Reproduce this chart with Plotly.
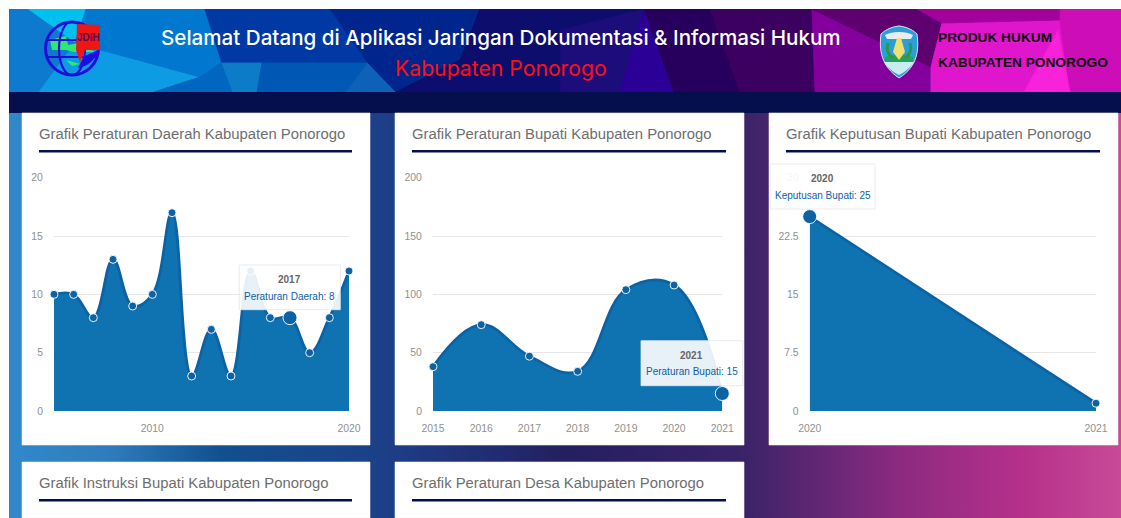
import base64
import plotly.graph_objects as go

W, H = 1121, 518

# ---- data ----
perda_years = [2005, 2006, 2007, 2008, 2009, 2010, 2011, 2012, 2013, 2014, 2015, 2016, 2017, 2018, 2019, 2020]
perda_values = [10, 10, 8, 13, 9, 10, 17, 3, 7, 3, 12, 8, 8, 5, 8, 12]
perbup_years = [2015, 2016, 2017, 2018, 2019, 2020, 2021]
perbup_values = [38, 74, 47, 34, 104, 108, 15]
kepbup_years = [2020, 2021]
kepbup_values = [25, 1]

perda_yticks = [0, 5, 10, 15, 20]
perbup_yticks = [0, 50, 100, 150, 200]
kepbup_yticks = [0, 7.5, 15, 22.5, 30]
perda_xticks = [2010, 2020]
perbup_xticks = perbup_years
kepbup_xticks = kepbup_years

header_title = "Selamat Datang di Aplikasi Jaringan Dokumentasi &amp; Informasi Hukum"
header_sub = "Kabupaten Ponorogo"
header_right = ["PRODUK HUKUM", "KABUPATEN PONOROGO"]
card_titles = [
    "Grafik Peraturan Daerah Kabupaten Ponorogo",
    "Grafik Peraturan Bupati Kabupaten Ponorogo",
    "Grafik Keputusan Bupati Kabupaten Ponorogo",
    "Grafik Instruksi Bupati Kabupaten Ponorogo",
    "Grafik Peraturan Desa Kabupaten Ponorogo",
]

# ---- decorative page backdrop (banner facets, logos, page gradient) ----
facets = [
    ("#0238a4", "204,9 330,9 368,63 221,63"),
    ("#0a7cc8", "221,63 262,63 257,92 232,92"),
    ("#0558b4", "262,63 368,63 346,92 257,92"),
    ("#0a62b8", "368,63 396,92 346,92"),
    ("#00c0ee", "27,9 86,9 75,43"),
    ("#0a7ad0", "9,9 27,9 75,43 39,92 9,92"),
    ("#0a9ce4", "75,43 200,77 154,92 39,92"),
    ("#0478d0", "86,9 204,9 221,63 200,77 75,43"),
    ("#0466c0", "200,77 221,63 232,92 154,92"),
    ("#04288e", "330,9 480,9 460,60 396,92 368,63"),
    ("#07106e", "480,9 644,9 620,92 396,92 460,60"),
    ("#1a0a7a", "560,30 644,9 620,92 560,92"),
    ("#2a0596", "644,9 620,92 674,92"),
    ("#25045c", "644,9 710,9 740,92 674,92"),
    ("#3a0560", "710,9 812,9 815,92 740,92"),
    ("#84009c", "812,9 931,67 931,92 815,92"),
    ("#5e0070", "812,9 917,9 942,23 931,67"),
    ("#e016cc", "942,23 1060,20 1070,92 931,92 931,67"),
    ("#a4009c", "917,9 1060,9 1060,20 942,23"),
    ("#cc0eb8", "1060,9 1121,9 1121,92 1070,92 1060,20"),
    ("#f820da", "1024,92 1058,30 1070,92"),
]
polys = "".join(f'<polygon points="{p}" fill="{c}" stroke="{c}" stroke-width="0.8"/>' for c, p in facets)
svg = f'''<svg xmlns="http://www.w3.org/2000/svg" width="{W}" height="{H}" viewBox="0 0 {W} {H}">
<defs>
<linearGradient id="g" x1="0" x2="1" y1="0" y2="0">
<stop offset="0.008" stop-color="#3088c8"/><stop offset="0.09" stop-color="#2f7cbd"/>
<stop offset="0.19" stop-color="#11508f"/><stop offset="0.34" stop-color="#1d3f88"/>
<stop offset="0.50" stop-color="#241f60"/><stop offset="0.66" stop-color="#3a2368"/>
<stop offset="0.80" stop-color="#8c2a80"/><stop offset="0.91" stop-color="#b5308a"/>
<stop offset="1" stop-color="#c84a98"/></linearGradient>
<linearGradient id="h" x1="0" x2="1" y1="0" y2="0">
<stop offset="0" stop-color="#0a7ad0"/><stop offset="0.3" stop-color="#04288e"/>
<stop offset="0.6" stop-color="#25045c"/><stop offset="0.8" stop-color="#84009c"/>
<stop offset="1" stop-color="#cc0eb8"/></linearGradient>
<filter id="b"><feGaussianBlur stdDeviation="0.6"/></filter>
<clipPath id="gc"><circle cx="72" cy="48.5" r="27"/></clipPath>
<clipPath id="bc"><rect x="9" y="9" width="{W-9}" height="83"/></clipPath>
</defs>
<rect x="9" y="9" width="{W-9}" height="{H-9}" fill="url(#g)"/>
<rect x="9" y="9" width="{W-9}" height="83" fill="url(#h)"/>
<g clip-path="url(#bc)"><g filter="url(#b)">{polys}</g></g>
<rect x="9" y="92" width="{W-9}" height="21" fill="#050f4e"/>
<g filter="url(#b)">
<path d="M50 40 L66 36 L68 45 L84 42 L94 52 L74 52 L66 50 L52 50 Z" fill="#2ee870"/>
<path d="M66 60 L80 64 L72 66 Z" fill="#2ee870"/>
<path d="M78 68 A27 27 0 0 0 99 50 L84 56 Z" fill="#1a10e8"/>
<circle cx="72" cy="48.5" r="26.5" fill="none" stroke="#2410d8" stroke-width="3"/>
<g clip-path="url(#gc)" fill="none" stroke="#2410d8" stroke-width="2.2">
<ellipse cx="72" cy="48.5" rx="13" ry="27"/>
<path d="M45 40 H99 M45 57 H99"/>
</g>
<path d="M77 24 L100 25 L100 50 L85 50 L80 62 L76 50 Z" fill="#f01818"/>
<path d="M899 26 C908 27 914 31 917 34 C919 50 918 66 899 78 C881 66 879 50 881 34 C884 31 890 27 899 26 Z" fill="#2c9ed8" stroke="#dbe8ee" stroke-width="1"/>
<path d="M885 35 C892 31 906 31 913 35 L911 39 L887 39 Z" fill="#e8eef0"/>
<path d="M884 62 L914 62 C911 67 905 72 899 75 C893 72 887 67 884 62 Z" fill="#c8ecf0"/>
<path d="M885 57 C892 54 906 54 913 57 L913 62 L885 62 Z" fill="#2aa060"/>
<path d="M897 38 L901 38 L905 52 L899 60 L893 52 Z" fill="#f0e070"/>
<path d="M888 43 C886 50 888 55 893 58 M910 43 C912 50 910 55 905 58" stroke="#2a9a40" stroke-width="3" fill="none"/>
</g>
</svg>'''
bg_uri = "data:image/svg+xml;base64," + base64.b64encode(svg.encode()).decode()

# ---- geometry ----
def px(x):
    return x / W

def py(y):
    return 1 - y / H

CARDS = [(22, 113, 370, 445), (395, 113, 744, 445), (769, 113, 1118, 445),
         (22, 462, 370, 518), (395, 462, 744, 518)]
TITLE_X = [39, 412, 786, 39, 412]
RULE_END = [352, 726, 1100, 352, 726]
PLOTS = [(54, 349), (433, 722.3), (809.7, 1096)]
PLOT_TOP, PLOT_BOTTOM = 177.7, 411

LINE = "#0b62a4"
FILL = "#0e73b0"
GREY = "#909090"

fig = go.Figure()
shapes, annos = [], []


def rect(x0, y0, x1, y1, fill, line=None, layer="below", lw=1):
    shapes.append(dict(type="rect", xref="paper", yref="paper", x0=px(x0), x1=px(x1), y0=py(y0), y1=py(y1),
                       fillcolor=fill, line=dict(color=line or "rgba(0,0,0,0)", width=lw if line else 0), layer=layer))


def text(x, y, s, size, color, family="Liberation Sans", anchor="center", weight=None):
    font = dict(family=family, size=size, color=color)
    if weight:
        font["weight"] = weight
    annos.append(dict(xref="paper", yref="paper", x=px(x), y=py(y), text=s, showarrow=False,
                      xanchor=anchor, yanchor="middle", font=font, borderpad=0, borderwidth=0))


for (x0, y0, x1, y1), tx, rx, title in zip(CARDS, TITLE_X, RULE_END, card_titles):
    rect(x0, y0, x1, y1, "#ffffff", "rgba(240,240,240,0.6)")
    text(tx, y0 + 20.5, title, 14.85, "#6e6e6e", anchor="left")
    rect(tx, y0 + 37, rx, y0 + 39.4, "#050f4e")

charts = [
    (perda_years, perda_values, perda_yticks, perda_xticks, 2017, "Peraturan Daerah", (239.3, 265, 340.3, 309.7)),
    (perbup_years, perbup_values, perbup_yticks, perbup_xticks, 2021, "Peraturan Bupati", (641, 340.7, 742.7, 385.7)),
    (kepbup_years, kepbup_values, kepbup_yticks, kepbup_xticks, 2020, "Keputusan Bupati", (770, 164, 875, 209)),
]

layout_axes = {}
for i, ((xs, ys, yt, xt, hi, label, box), (xa, xb)) in enumerate(zip(charts, PLOTS), start=1):
    sfx = "" if i == 1 else str(i)
    sizes = [14 if x == hi else 8 for x in xs]
    fig.add_trace(go.Scatter(
        x=xs, y=ys, mode="lines+markers", name=label, xaxis=f"x{sfx}", yaxis=f"y{sfx}",
        line=dict(color=LINE, width=2.7, shape="spline", smoothing=1.15),
        fill="tozeroy", fillcolor=FILL, cliponaxis=False,
        marker=dict(size=sizes, color=LINE, opacity=1, line=dict(color="rgba(255,255,255,0.9)", width=1)),
        showlegend=False, hoverinfo="x+y",
    ))
    layout_axes[f"xaxis{sfx}"] = dict(
        domain=[px(xa), px(xb)], range=[xs[0], xs[-1]], anchor=f"y{sfx}", tickvals=xt, tickformat="d",
        showgrid=False, zeroline=False, showline=False, ticks="outside", ticklen=8, tickcolor="rgba(0,0,0,0)",
        tickfont=dict(family="Liberation Sans", size=10.4, color=GREY), automargin=False,
    )
    layout_axes[f"yaxis{sfx}"] = dict(
        domain=[py(PLOT_BOTTOM), py(PLOT_TOP)], range=[yt[0], yt[-1]], anchor=f"x{sfx}", tickvals=yt,
        showgrid=True, gridcolor="#e6e6e6", gridwidth=1, zeroline=False, showline=False,
        ticks="outside", ticklen=8, tickcolor="rgba(0,0,0,0)",
        tickfont=dict(family="Liberation Sans", size=10.4, color=GREY), automargin=False,
    )
    x0, y0, x1, y1 = box
    shapes.append(dict(type="rect", xref="paper", yref="paper", x0=px(x0), x1=px(x1), y0=py(y0), y1=py(y1),
                       fillcolor="rgba(255,255,255,0.9)", line=dict(color="rgba(230,230,230,0.8)", width=1),
                       layer="above"))
    cx = (x0 + x1) / 2
    value = ys[xs.index(hi)]
    text(cx, y0 + 14.5, f"<b>{hi}</b>", 10, "#666666")
    text(cx, y0 + 31, f"{label}: {value}", 10, LINE)

# header text
text(501, 38, header_title, 20.6, "#ffffff", family="Inter", weight=500)
text(501, 68, header_sub, 21.2, "#ff1010", family="Inter")
text(938, 38, f"<b>{header_right[0]}</b>", 13.7, "#0a0a0a", anchor="left")
text(938, 63, f"<b>{header_right[1]}</b>", 13.7, "#0a0a0a", anchor="left")
text(88.5, 38, "<b>JDIH</b>", 10, "#5a0a50")

fig.update_layout(
    width=W, height=H, margin=dict(l=0, r=0, t=0, b=0, pad=0),
    paper_bgcolor="#ffffff", plot_bgcolor="rgba(0,0,0,0)", showlegend=False,
    images=[dict(source=bg_uri, xref="paper", yref="paper", x=0, y=1, sizex=1, sizey=1,
                 xanchor="left", yanchor="top", sizing="stretch", layer="below")],
    shapes=shapes, annotations=annos, **layout_axes,
)

fig.write_html("out.html", config={"displayModeBar": False},
               post_script="document.body.style.margin='0';document.documentElement.style.overflow='hidden';")
